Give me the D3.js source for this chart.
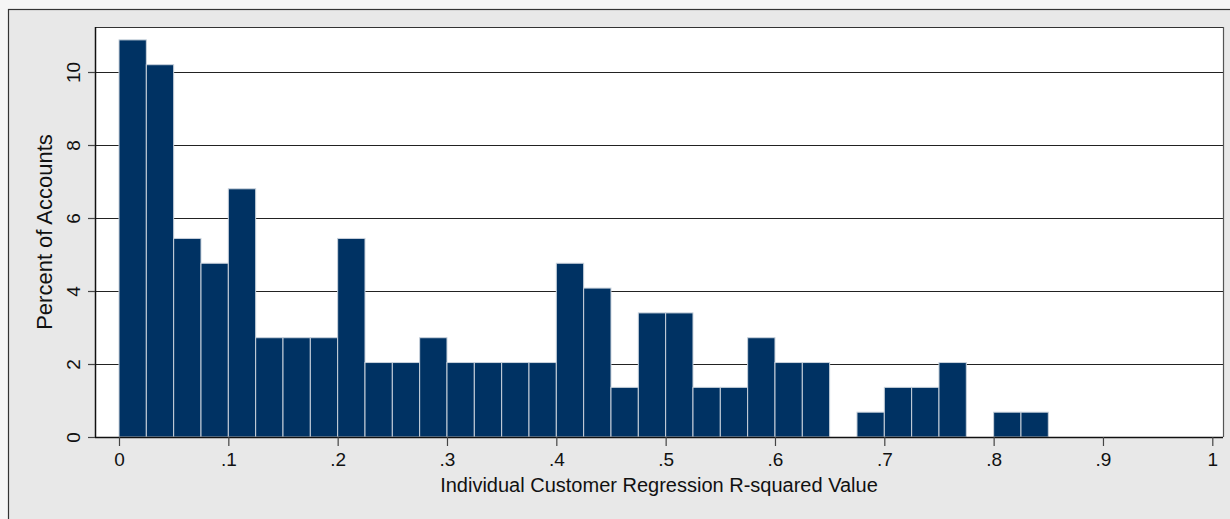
<!DOCTYPE html>
<html><head><meta charset="utf-8">
<script src="https://cdn.jsdelivr.net/npm/d3@7"></script>
<style>body{margin:0;background:#f5f5f5;}svg{display:block;font-family:"Liberation Sans",Arial,sans-serif;}</style>
</head><body>
<svg id="c" width="1230" height="519"></svg>
<script>
// Histogram of R-squared values: bin start (width .025) and percent of accounts
const binStarts = d3.range(0, 1, 0.025);
const percents = [10.88,10.20,5.44,4.76,6.80,2.72,2.72,2.72,5.44,2.04,2.04,2.72,2.04,2.04,2.04,2.04,
  4.76,4.08,1.36,3.40,3.40,1.36,1.36,2.72,2.04,2.04,0,0.68,1.36,1.36,2.04,0,0.68,0.68,0,0,0,0,0,0];
const binWidth = 0.025;
const xTicks = [0,.1,.2,.3,.4,.5,.6,.7,.8,.9,1];
const xTickLabels = ["0",".1",".2",".3",".4",".5",".6",".7",".8",".9","1"];
const yTicks = [0,2,4,6,8,10];
const xTitle = "Individual Customer Regression R-squared Value";
const yTitle = "Percent of Accounts";

const svg = d3.select("#c");
// outer background frame
svg.append("rect").attr("x",8.5).attr("y",9.5).attr("width",1230).attr("height",520)
  .attr("fill","#e8e8e8").attr("stroke","#333").attr("stroke-width",1.2);

const L=95, R=1223, T=27, B=437;
const x = d3.scaleLinear().domain([0,1]).range([119,1212.3]);
const y = d3.scaleLinear().domain([0,10]).range([B,72]);

svg.append("rect").attr("x",L).attr("y",T).attr("width",R-L).attr("height",B-T).attr("fill","#fff");

// gridlines
svg.append("g").selectAll("line").data(yTicks.filter(d=>d>0)).join("line")
  .attr("x1",L).attr("x2",R).attr("y1",d=>Math.round(y(d))+0.5).attr("y2",d=>Math.round(y(d))+0.5)
  .attr("stroke","#222").attr("stroke-width",1);

// bars
svg.append("g").selectAll("rect").data(percents.map((p,i)=>({x0:binStarts[i],p})).filter(d=>d.p>0)).join("rect")
  .attr("x",d=>x(d.x0)).attr("width",d=>x(d.x0+binWidth)-x(d.x0))
  .attr("y",d=>y(d.p)).attr("height",d=>B-y(d.p))
  .attr("fill","#003263").attr("stroke","#c9d2dc").attr("stroke-width",1);

// frame lines
svg.append("line").attr("x1",L).attr("x2",R).attr("y1",T+0.5).attr("y2",T+0.5).attr("stroke","#333").attr("stroke-width",1.2);
svg.append("line").attr("x1",R+0.5).attr("x2",R+0.5).attr("y1",T).attr("y2",B).attr("stroke","#555").attr("stroke-width",1.2);

// y axis
const yAxis = svg.append("g").attr("transform",`translate(${L},0)`)
  .call(d3.axisLeft(y).tickValues(yTicks).tickSize(7).tickPadding(6));
yAxis.select(".domain").attr("stroke","#111").attr("stroke-width",1.5).attr("d",`M0.5,${T}V${B}`);
yAxis.selectAll(".tick line").attr("stroke","#444").attr("stroke-width",1.2);
yAxis.selectAll(".tick text").attr("font-size",19).attr("fill","#111")
  .attr("text-anchor","middle").attr("dy",null)
  .attr("transform","translate(-15,0) rotate(-90)").attr("y",0).attr("x",0);

// x axis
const xAxis = svg.append("g").attr("transform",`translate(0,${B})`)
  .call(d3.axisBottom(x).tickValues(xTicks).tickFormat((d,i)=>xTickLabels[i]).tickSize(9).tickPadding(7));
xAxis.select(".domain").attr("stroke","#111").attr("stroke-width",1.5).attr("d",`M${L},0.5H${R}`);
xAxis.selectAll(".tick line").attr("stroke","#444").attr("stroke-width",1.2);
xAxis.selectAll(".tick text").attr("font-size",19).attr("fill","#111");

// titles
svg.append("text").attr("x",(L+R)/2).attr("y",492).attr("text-anchor","middle")
  .attr("font-size",20).attr("fill","#111").text(xTitle);
svg.append("text").attr("transform",`translate(52,${(T+B)/2}) rotate(-90)`).attr("text-anchor","middle")
  .attr("font-size",22).attr("fill","#111").text(yTitle);
</script>
</body></html>
